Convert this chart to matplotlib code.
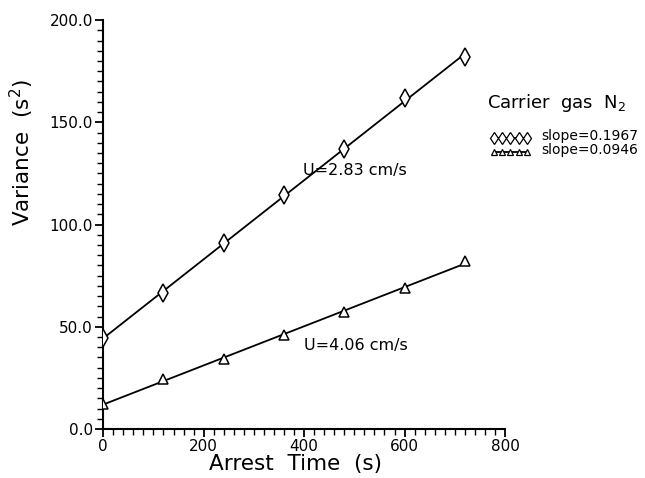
import numpy as np
import matplotlib
matplotlib.use("Agg")
import matplotlib.pyplot as plt
from matplotlib.legend_handler import HandlerLine2D
from matplotlib.ticker import MultipleLocator, FormatStrFormatter

# ---------------------------------------------------------------------------
# Data
# ---------------------------------------------------------------------------
arrest_time = [0, 120, 240, 360, 480, 600, 720]
var_283 = [44.5, 66.5, 91.0, 114.5, 137.0, 162.0, 182.0]   # U=2.83 cm/s
var_406 = [12.2, 24.5, 34.0, 46.0, 57.2, 69.0, 82.0]       # U=4.06 cm/s
slope_labels = ["slope=0.1967", "slope=0.0946"]
speed_labels = ["U=2.83 cm/s", "U=4.06 cm/s"]

plt.rcParams["font.family"] = ["DejaVu Sans"]


class UnderlineHandler(HandlerLine2D):
    """Legend handle: markers sitting on a line below them."""
    def create_artists(self, legend, orig_handle, xdescent, ydescent,
                       width, height, fontsize, trans):
        arts = super().create_artists(legend, orig_handle, xdescent, ydescent,
                                      width, height, fontsize, trans)
        line = arts[0]
        y = np.asarray(line.get_ydata(), dtype=float)
        line.set_ydata(y - 0.36 * height)
        return arts


fig = plt.figure(figsize=(6.45, 4.78), dpi=100, facecolor="white")
ax = fig.add_axes([0.160, 0.1025, 0.623, 0.8555])

x = np.array(arrest_time, dtype=float)
handles = []
for yv, mk, ms, lms in [(var_283, "d", 9, 6), (var_406, "^", 7, 5)]:
    yv = np.array(yv)
    p = np.polyfit(x, yv, 1)
    ax.plot(x, np.polyval(p, x), color="black", lw=1.3, zorder=2)
    ax.plot(x, yv, ls="none", marker=mk, ms=ms, mfc="white", mec="black",
            mew=1.1, zorder=3)
    h, = ax.plot([], [], color="black", lw=1.3, marker=mk, ms=lms,
                 mfc="white", mec="black", mew=0.9)
    handles.append(h)

ax.text(398, 126.5, speed_labels[0], fontsize=11.5, va="center", ha="left")
ax.text(400, 41.0, speed_labels[1], fontsize=11.5, va="center", ha="left")

ax.set_xlim(0, 800)
ax.set_ylim(0, 200)
ax.xaxis.set_major_locator(MultipleLocator(200))
ax.xaxis.set_minor_locator(MultipleLocator(20))
ax.yaxis.set_major_locator(MultipleLocator(50))
ax.yaxis.set_minor_locator(MultipleLocator(5))
ax.yaxis.set_major_formatter(FormatStrFormatter("%.1f"))

for s in ["top", "right"]:
    ax.spines[s].set_visible(False)
for s in ["left", "bottom"]:
    ax.spines[s].set_linewidth(1.5)

ax.tick_params(which="major", direction="out", length=6, width=1.3,
               labelsize=11, pad=1.5)
ax.tick_params(which="minor", direction="out", length=4, width=1.0)

ax.set_xlabel("Arrest  Time  (s)", fontsize=15.5)
ax.set_ylabel(r"Variance  (s$^2$)", fontsize=15.5)
ax.xaxis.set_label_coords(0.478, -0.060)
ax.yaxis.set_label_coords(-0.168, 0.675)

fig.text(0.755, 0.785, r"Carrier  gas  N$_2$", fontsize=13,
         va="center", ha="left")

leg = fig.legend(handles, slope_labels, numpoints=5, handlelength=3.0,
                 handletextpad=0.75, labelspacing=0.0, frameon=False,
                 fontsize=10, loc="upper left",
                 bbox_to_anchor=(0.748, 0.745), borderpad=0,
                 handler_map={h: UnderlineHandler() for h in handles})

fig.savefig("out.png", dpi=100, facecolor="white")
